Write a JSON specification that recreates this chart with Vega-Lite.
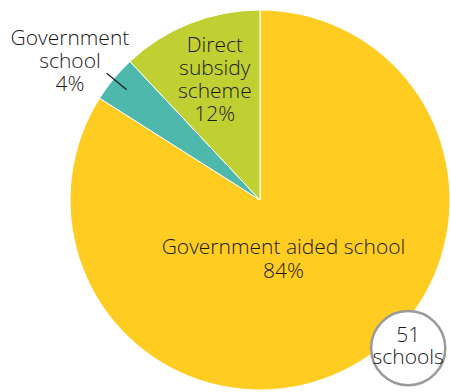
{
  "$schema": "https://vega.github.io/schema/vega-lite/v6.json",
  "width": 380,
  "height": 380,
  "autosize": "none",
  "padding": {"left": 70, "top": 10, "right": 1, "bottom": 2},
  "background": "white",
  "config": {"view": {"stroke": null}, "text": {"font": "Open Sans", "fontWeight": 300, "color": "#1a1a1a"}},
  "data": {
    "values": [
      {"category": "Government aided school", "pct": 84, "order": 1, "label": ["Government aided school", "84%"]},
      {"category": "Government school", "pct": 4, "order": 2, "label": ["Government", "school", "4%"]},
      {"category": "Direct subsidy scheme", "pct": 12, "order": 3, "label": ["Direct", "subsidy", "scheme", "12%"]}
    ]
  },
  "transform": [
    {"stack": "pct", "groupby": [], "sort": [{"field": "order", "order": "ascending"}], "as": ["t0", "t1"]},
    {"calculate": "(datum.t0 + datum.t1) / 2", "as": "mid"}
  ],
  "layer": [
    {
      "mark": {"type": "arc", "stroke": "white", "strokeWidth": 1},
      "encoding": {
        "theta": {"field": "t0", "type": "quantitative", "scale": {"domain": [0, 100]}},
        "theta2": {"field": "t1"},
        "color": {
          "field": "category", "type": "nominal",
          "scale": {"domain": ["Government aided school", "Government school", "Direct subsidy scheme"], "range": ["#FFCC22", "#4DB8AB", "#C0D032"]},
          "legend": null
        }
      }
    },
    {
      "transform": [{"filter": "datum.category === 'Government school'"}],
      "mark": {"type": "arc", "radius": 199, "radius2": 173, "stroke": "#222222", "strokeWidth": 1.3, "fill": null},
      "encoding": {
        "theta": {"field": "mid", "type": "quantitative"},
        "theta2": {"field": "mid"}
      }
    },
    {
      "transform": [{"filter": "datum.category === 'Government aided school'"}],
      "mark": {"type": "text", "radius": 55, "dx": -3, "fontSize": 21, "lineHeight": 24, "align": "center", "baseline": "middle"},
      "encoding": {"theta": {"field": "mid", "type": "quantitative"}, "text": {"field": "label"}}
    },
    {
      "transform": [{"filter": "datum.category === 'Direct subsidy scheme'"}],
      "mark": {"type": "text", "radius": 150, "dx": 10, "dy": -15, "fontSize": 21, "lineHeight": 23, "align": "center", "baseline": "middle"},
      "encoding": {"theta": {"field": "mid", "type": "quantitative"}, "text": {"field": "label"}}
    },
    {
      "transform": [{"filter": "datum.category === 'Government school'"}],
      "mark": {"type": "text", "radius": 235, "dx": -9, "dy": -11, "fontSize": 21, "lineHeight": 23, "align": "center", "baseline": "middle"},
      "encoding": {"theta": {"field": "mid", "type": "quantitative"}, "text": {"field": "label"}}
    },
    {
      "data": {"values": [{"label": ["51", "schools"]}]},
      "mark": {"type": "point", "shape": "circle", "filled": true, "fill": "white", "stroke": "#9A9A9A", "strokeWidth": 2.5, "opacity": 1, "size": 5500},
      "encoding": {
        "x": {"datum": 0.78, "type": "quantitative", "scale": {"domain": [-1, 1]}, "axis": null},
        "y": {"datum": -0.78, "type": "quantitative", "scale": {"domain": [-1, 1]}, "axis": null}
      }
    },
    {
      "data": {"values": [{"label": ["51", "schools"]}]},
      "mark": {"type": "text", "fontSize": 21, "lineHeight": 22, "dy": -12, "align": "center", "baseline": "middle"},
      "encoding": {
        "x": {"datum": 0.78, "type": "quantitative", "scale": {"domain": [-1, 1]}, "axis": null},
        "y": {"datum": -0.78, "type": "quantitative", "scale": {"domain": [-1, 1]}, "axis": null},
        "text": {"field": "label"}
      }
    }
  ]
}
